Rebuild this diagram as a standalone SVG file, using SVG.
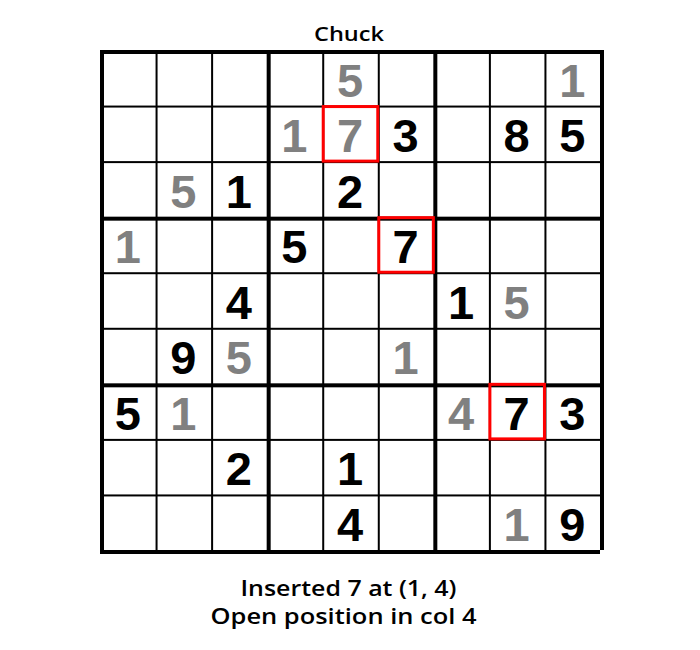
<svg xmlns="http://www.w3.org/2000/svg" width="700" height="650" viewBox="0 0 700 650">
<style>
.bg{fill:#ffffff}
.thin{fill:#000000}
.thick{fill:#000000}
.d{font-family:"Liberation Sans",Arial,sans-serif;font-weight:bold;font-size:47px;text-anchor:middle}
.g{fill:#808080}
.k{fill:#000000}
.hl{fill:none;stroke:#ff0000;stroke-width:3}
.lbl{font-family:"Open Sans","DejaVu Sans",sans-serif;font-weight:600;fill:#000000;text-anchor:middle}
</style>
<rect class="bg" x="0" y="0" width="700" height="650"/>
<text id="title" class="lbl" x="349" y="41" font-size="20.5" textLength="70" lengthAdjust="spacingAndGlyphs">Chuck</text>
<g id="grid">
<rect class="thick" x="100" y="50" width="4" height="500"/>
<rect class="thin" x="155.56" y="50" width="2" height="500"/>
<rect class="thin" x="211.11" y="50" width="2" height="500"/>
<rect class="thick" x="266.67" y="50" width="4" height="500"/>
<rect class="thin" x="322.22" y="50" width="2" height="500"/>
<rect class="thin" x="377.78" y="50" width="2" height="500"/>
<rect class="thick" x="433.33" y="50" width="4" height="500"/>
<rect class="thin" x="488.89" y="50" width="2" height="500"/>
<rect class="thin" x="544.44" y="50" width="2" height="500"/>
<rect class="thick" x="600" y="50" width="4" height="500"/>
<rect class="thick" x="100" y="50" width="500" height="4"/>
<rect class="thin" x="100" y="105.56" width="500" height="2"/>
<rect class="thin" x="100" y="161.11" width="500" height="2"/>
<rect class="thick" x="100" y="216.67" width="500" height="4"/>
<rect class="thin" x="100" y="272.22" width="500" height="2"/>
<rect class="thin" x="100" y="327.78" width="500" height="2"/>
<rect class="thick" x="100" y="383.33" width="500" height="4"/>
<rect class="thin" x="100" y="438.89" width="500" height="2"/>
<rect class="thin" x="100" y="494.44" width="500" height="2"/>
<rect class="thick" x="100" y="550" width="500" height="4"/>
</g>
<g id="highlights">
<rect id="hl-1-4" class="hl" x="323.22" y="106.56" width="54.56" height="54.56"/>
<rect id="hl-3-5" class="hl" x="378.78" y="217.67" width="54.56" height="54.56"/>
<rect id="hl-6-7" class="hl" x="489.89" y="384.33" width="54.56" height="54.56"/>
</g>
<g id="digits" class="d">
<g id="r0"><text class="g" x="350" y="96.5">5</text><text class="g" x="572.22" y="96.5">1</text></g>
<g id="r1"><text class="g" x="294.44" y="152.06">1</text><text class="g" x="350" y="152.06">7</text><text class="k" x="405.56" y="152.06">3</text><text class="k" x="516.67" y="152.06">8</text><text class="k" x="572.22" y="152.06">5</text></g>
<g id="r2"><text class="g" x="183.33" y="207.61">5</text><text class="k" x="238.89" y="207.61">1</text><text class="k" x="350" y="207.61">2</text></g>
<g id="r3"><text class="g" x="127.78" y="263.17">1</text><text class="k" x="294.44" y="263.17">5</text><text class="k" x="405.56" y="263.17">7</text></g>
<g id="r4"><text class="k" x="238.89" y="318.72">4</text><text class="k" x="461.11" y="318.72">1</text><text class="g" x="516.67" y="318.72">5</text></g>
<g id="r5"><text class="k" x="183.33" y="374.28">9</text><text class="g" x="238.89" y="374.28">5</text><text class="g" x="405.56" y="374.28">1</text></g>
<g id="r6"><text class="k" x="127.78" y="429.83">5</text><text class="g" x="183.33" y="429.83">1</text><text class="g" x="461.11" y="429.83">4</text><text class="k" x="516.67" y="429.83">7</text><text class="k" x="572.22" y="429.83">3</text></g>
<g id="r7"><text class="k" x="238.89" y="485.39">2</text><text class="k" x="350" y="485.39">1</text></g>
<g id="r8"><text class="k" x="350" y="540.94">4</text><text class="g" x="516.67" y="540.94">1</text><text class="k" x="572.22" y="540.94">9</text></g>
</g>
<g id="caption">
<text class="lbl" x="348.5" y="596" font-size="21" textLength="216" lengthAdjust="spacingAndGlyphs">Inserted 7 at (1, 4)</text>
<text class="lbl" x="343.5" y="624" font-size="21" textLength="266" lengthAdjust="spacingAndGlyphs">Open position in col 4</text>
</g>
</svg>
